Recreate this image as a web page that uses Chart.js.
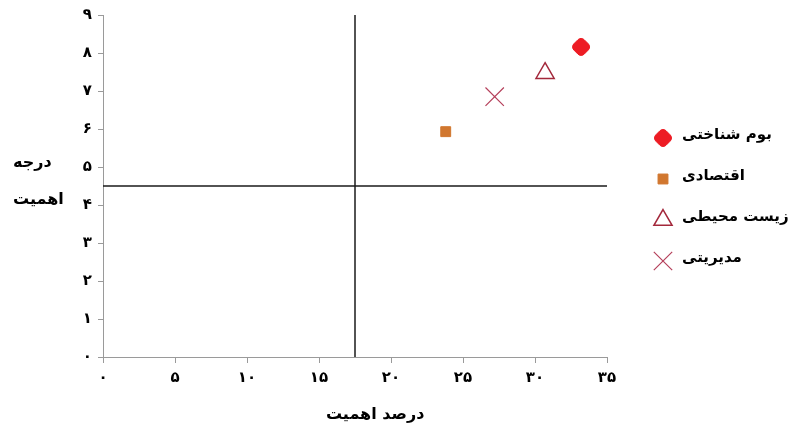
<!DOCTYPE html>
<html>
<head>
<meta charset="utf-8">
<script src="https://cdn.jsdelivr.net/npm/chart.js@4/dist/chart.umd.min.js"></script>
<style>
    html, body { margin: 0; padding: 0; background: #ffffff; }
    #wrap { width: 800px; height: 434px; }
</style>
</head>
<body>
<div id="wrap"><canvas id="chart"></canvas></div>
<script>
// data
const seriesNames = ['بوم شناختی', 'اقتصادی', 'زیست محیطی', 'مدیریتی'];
const seriesX = [33.2, 23.8, 30.7, 27.2];
const seriesY = [8.16, 5.93, 7.47, 6.85];

const xTickLabels = ['۰', '۵', '۱۰', '۱۵', '۲۰', '۲۵', '۳۰', '۳۵'];
const yTickLabels = ['۰', '۱', '۲', '۳', '۴', '۵', '۶', '۷', '۸', '۹'];
const xTitle = 'درصد اهمیت';
const yTitleLines = ['درجه', 'اهمیت'];

const xRange = [0, 35];
const yRange = [0, 9];
const xCut = 17.5;   // vertical divider
const yCut = 4.5;    // horizontal divider

const FONT = 'DejaVu Sans';
const AXIS_GREY = '#9a9a9a';

const MARKERS = [
    { style: 'rectRounded', rotation: 45, radius: 8.5, fill: '#ed1c24', stroke: '#ed1c24', width: 1 },
    { style: 'rect', rotation: 0, radius: 7, fill: '#d1772f', stroke: '#d1772f', width: 1 },
    { style: 'triangle', rotation: 0, radius: 10.5, fill: '#ffffff', stroke: '#a3283b', width: 1.5 },
    { style: 'crossRot', rotation: 0, radius: 13, fill: '#b5405b', stroke: '#b5405b', width: 1.2 }
];

const pointSets = seriesNames.map((name, i) => ({
    label: name,
    data: [{ x: seriesX[i], y: seriesY[i] }],
    pointStyle: MARKERS[i].style,
    pointRotation: MARKERS[i].rotation,
    pointRadius: MARKERS[i].radius,
    pointHoverRadius: MARKERS[i].radius,
    pointBackgroundColor: MARKERS[i].fill,
    pointBorderColor: MARKERS[i].stroke,
    pointBorderWidth: MARKERS[i].width
}));

const dividerSets = [
    { label: '_v', data: [{ x: xCut, y: yRange[0] }, { x: xCut, y: yRange[1] }] },
    { label: '_h', data: [{ x: xRange[0], y: yCut }, { x: xRange[1], y: yCut }] }
].map(d => ({ ...d, showLine: true, pointRadius: 0, borderColor: '#1a1a1a', borderWidth: 1.5 }));

// titles and legend drawn by hand so they sit where the reference has them
const decorations = {
    id: 'decorations',
    afterDraw(chart) {
        const ctx = chart.ctx;
        const area = chart.chartArea;
        ctx.save();
        ctx.fillStyle = '#000';
        ctx.font = `bold 16px "${FONT}"`;
        ctx.textBaseline = 'middle';

        ctx.textAlign = 'center';
        ctx.fillText(xTitle, area.left + (area.right - area.left) * 0.54, 415);

        ctx.textAlign = 'left';
        yTitleLines.forEach((t, i) => ctx.fillText(t, 13, 163 + i * 37));

        // legend
        ctx.font = `bold 15px "${FONT}"`;
        const mx = area.right + 56;
        seriesNames.forEach((name, i) => {
            const y = 138 + i * 41;
            const m = MARKERS[i];
            ctx.fillStyle = m.fill;
            ctx.strokeStyle = m.stroke;
            ctx.lineWidth = m.width;
            Chart.helpers.drawPoint(ctx, { pointStyle: m.style, rotation: m.rotation, radius: m.radius, borderWidth: m.width }, mx, y);
            ctx.fillStyle = '#000';
            ctx.fillText(name, mx + 19, y - 3);
        });
        ctx.restore();
    }
};

const tickFont = { family: FONT, size: 15, weight: 'bold' };

new Chart(document.getElementById('chart'), {
    type: 'scatter',
    data: { datasets: [...pointSets, ...dividerSets] },
    options: {
        responsive: true,
        maintainAspectRatio: false,
        animation: false,
        layout: { padding: { left: 0, right: 193, top: 15, bottom: 0 } },
        plugins: { legend: { display: false }, tooltip: { enabled: false } },
        scales: {
            x: {
                type: 'linear', min: xRange[0], max: xRange[1],
                afterFit: s => { s.height = 77; },
                border: { color: AXIS_GREY, width: 1 },
                grid: { drawOnChartArea: false, color: AXIS_GREY, tickLength: 6 },
                ticks: { stepSize: 5, padding: 6, color: '#000', font: tickFont, maxRotation: 0, callback: v => xTickLabels[v / 5] }
            },
            y: {
                type: 'linear', min: yRange[0], max: yRange[1],
                afterFit: s => { s.width = 103; },
                border: { color: AXIS_GREY, width: 1 },
                grid: { drawOnChartArea: false, color: AXIS_GREY, tickLength: 5 },
                ticks: { stepSize: 1, padding: 6, color: '#000', font: tickFont, callback: v => yTickLabels[v] }
            }
        }
    },
    plugins: [decorations]
});
</script>
</body>
</html>
